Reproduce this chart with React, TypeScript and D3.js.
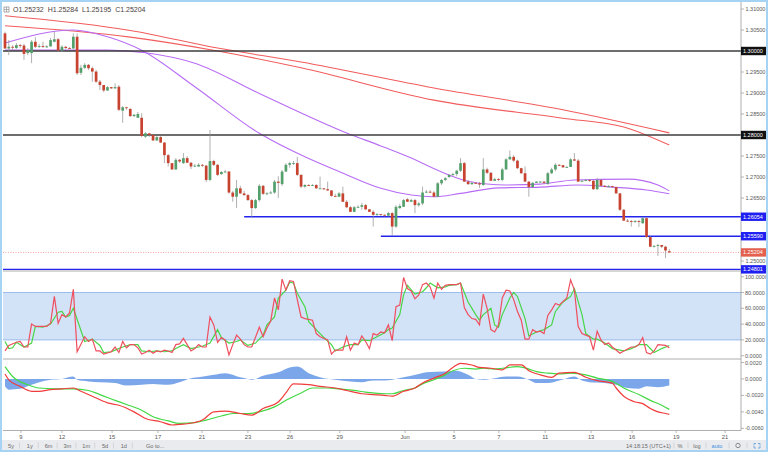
import React from 'react';
import * as d3 from 'd3';

// ---------- DATA ----------
const opens = [1.3042,1.3006,1.3010,1.3007,1.3014,1.3013,1.2995,1.2995,1.3022,1.3010,1.3012,1.3010,1.3011,1.3022,1.3028,1.3001,1.3010,1.3007,1.3006,1.3034,
1.2948,1.2960,1.2967,1.2959,1.2951,1.2927,1.2919,1.2906,1.2914,1.2911,1.2915,1.2858,1.2866,1.2862,1.2845,1.2841,1.2841,1.2796,1.2804,1.2800,
1.2787,1.2795,1.2782,1.2752,1.2733,1.2718,1.2741,1.2733,1.2745,1.2734,1.2725,1.2725,1.2729,1.2727,1.2693,1.2738,1.2729,1.2707,1.2712,1.2713,
1.2663,1.2653,1.2673,1.2661,1.2657,1.2645,1.2626,1.2645,1.2679,1.2660,1.2661,1.2663,1.2689,1.2683,1.2713,1.2729,1.2733,1.2733,1.2705,1.2677,
1.2681,1.2680,1.2681,1.2673,1.2673,1.2671,1.2668,1.2655,1.2653,1.2661,1.2641,1.2628,1.2617,1.2628,1.2629,1.2633,1.2623,1.2617,1.2610,1.2612,
1.2610,1.2608,1.2614,1.2582,1.2626,1.2629,1.2647,1.2641,1.2645,1.2633,1.2637,1.2663,1.2665,1.2663,1.2653,1.2685,1.2693,1.2700,1.2705,1.2707,
1.2715,1.2733,1.2689,1.2683,1.2686,1.2685,1.2681,1.2718,1.2710,1.2691,1.2695,1.2693,1.2718,1.2742,1.2748,1.2739,1.2721,1.2709,1.2689,1.2676,
1.2686,1.2689,1.2689,1.2684,1.2709,1.2718,1.2729,1.2728,1.2723,1.2724,1.2742,1.2739,1.2689,1.2691,1.2693,1.2691,1.2671,1.2693,1.2679,1.2677,
1.2678,1.2676,1.2661,1.2622,1.2596,1.2595,1.2594,1.2595,1.2590,1.2602,1.2557,1.2534,1.2536,1.2538,1.2534,1.25232];
const highs = [1.3046,1.3026,1.3014,1.3019,1.3017,1.3017,1.3007,1.3026,1.3033,1.3017,1.3022,1.3014,1.3031,1.3046,1.3031,1.3014,1.3012,1.3010,1.3042,1.3042,
1.2967,1.2971,1.2969,1.2963,1.2955,1.2931,1.2919,1.2917,1.2914,1.2923,1.2919,1.2869,1.2867,1.2864,1.2850,1.2855,1.2852,1.2807,1.2805,1.2802,
1.2798,1.2798,1.2783,1.2755,1.2733,1.2745,1.2743,1.2757,1.2750,1.2736,1.2731,1.2733,1.2731,1.2729,1.2812,1.2741,1.2731,1.2714,1.2717,1.2714,
1.2667,1.2693,1.2679,1.2667,1.2660,1.2648,1.2648,1.2683,1.2681,1.2664,1.2667,1.2693,1.2702,1.2717,1.2733,1.2736,1.2738,1.2748,1.2707,1.2683,
1.2683,1.2683,1.2683,1.2701,1.2674,1.2689,1.2669,1.2660,1.2664,1.2677,1.2645,1.2631,1.2631,1.2633,1.2638,1.2636,1.2624,1.2621,1.2614,1.2612,
1.2611,1.2617,1.2617,1.2633,1.2636,1.2648,1.2650,1.2648,1.2648,1.2641,1.2677,1.2669,1.2669,1.2667,1.2688,1.2695,1.2700,1.2707,1.2710,1.2717,
1.2745,1.2736,1.2693,1.2688,1.2688,1.2688,1.2745,1.2722,1.2712,1.2698,1.2698,1.2722,1.2745,1.2763,1.2752,1.2741,1.2722,1.2725,1.2690,1.2688,
1.2690,1.2690,1.2690,1.2712,1.2722,1.2733,1.2731,1.2729,1.2726,1.2745,1.2757,1.2743,1.2693,1.2695,1.2695,1.2693,1.2698,1.2695,1.2681,1.2681,
1.2679,1.2676,1.2662,1.2624,1.2600,1.2598,1.2598,1.2598,1.2605,1.2605,1.2560,1.2538,1.2541,1.2538,1.2536,1.25284];
const lows = [1.3005,1.2990,1.3002,1.3005,1.3007,1.2979,1.2990,1.2971,1.3007,1.3007,1.3007,1.3007,1.3010,1.3021,1.2998,1.2998,1.3005,1.3005,1.3005,1.2943,
1.2943,1.2957,1.2955,1.2927,1.2924,1.2907,1.2902,1.2905,1.2910,1.2910,1.2857,1.2829,1.2860,1.2843,1.2843,1.2841,1.2795,1.2793,1.2795,1.2786,
1.2786,1.2781,1.2733,1.2725,1.2717,1.2717,1.2733,1.2731,1.2733,1.2719,1.2724,1.2724,1.2724,1.2688,1.2690,1.2726,1.2702,1.2705,1.2710,1.2660,
1.2641,1.2626,1.2660,1.2655,1.2643,1.2604,1.2624,1.2641,1.2657,1.2657,1.2660,1.2660,1.2650,1.2679,1.2712,1.2722,1.2729,1.2702,1.2674,1.2674,
1.2679,1.2679,1.2672,1.2672,1.2669,1.2667,1.2653,1.2653,1.2653,1.2641,1.2626,1.2617,1.2617,1.2626,1.2622,1.2622,1.2617,1.2582,1.2607,1.2607,
1.2606,1.2606,1.2560,1.2579,1.2624,1.2629,1.2641,1.2641,1.2614,1.2629,1.2633,1.2662,1.2662,1.2653,1.2653,1.2681,1.2690,1.2698,1.2702,1.2702,
1.2712,1.2688,1.2681,1.2681,1.2683,1.2674,1.2679,1.2707,1.2690,1.2690,1.2690,1.2690,1.2717,1.2741,1.2736,1.2719,1.2707,1.2688,1.2653,1.2674,
1.2686,1.2686,1.2683,1.2681,1.2707,1.2714,1.2726,1.2722,1.2722,1.2724,1.2738,1.2688,1.2688,1.2690,1.2688,1.2669,1.2669,1.2676,1.2676,1.2676,
1.2674,1.2660,1.2619,1.2595,1.2593,1.2582,1.2591,1.2581,1.2588,1.2555,1.2533,1.2532,1.2512,1.2531,1.2507,1.25195];
const closes = [1.3006,1.3010,1.3008,1.3014,1.3012,1.2993,1.3002,1.3022,1.3010,1.3012,1.3010,1.3011,1.3026,1.3028,1.3001,1.3010,1.3007,1.3006,1.3034,1.2947,
1.2960,1.2967,1.2959,1.2951,1.2927,1.2919,1.2906,1.2914,1.2911,1.2914,1.2860,1.2866,1.2864,1.2845,1.2848,1.2850,1.2798,1.2804,1.2800,1.2787,
1.2795,1.2782,1.2752,1.2733,1.2718,1.2741,1.2737,1.2745,1.2734,1.2725,1.2727,1.2729,1.2727,1.2693,1.2738,1.2729,1.2705,1.2712,1.2713,1.2663,
1.2653,1.2673,1.2661,1.2657,1.2645,1.2626,1.2645,1.2679,1.2660,1.2661,1.2663,1.2689,1.2686,1.2713,1.2729,1.2733,1.2733,1.2705,1.2677,1.2681,
1.2680,1.2681,1.2673,1.2673,1.2671,1.2668,1.2655,1.2653,1.2661,1.2641,1.2628,1.2617,1.2628,1.2629,1.2633,1.2623,1.2617,1.2610,1.2612,1.2610,
1.2608,1.2614,1.2582,1.2629,1.2631,1.2645,1.2641,1.2645,1.2633,1.2637,1.2663,1.2665,1.2663,1.2653,1.2685,1.2693,1.2697,1.2705,1.2707,1.2715,
1.2733,1.2689,1.2683,1.2686,1.2685,1.2682,1.2718,1.2710,1.2691,1.2695,1.2694,1.2718,1.2742,1.2748,1.2739,1.2721,1.2709,1.2689,1.2676,1.2686,
1.2689,1.2689,1.2686,1.2709,1.2718,1.2729,1.2728,1.2723,1.2724,1.2742,1.2739,1.2689,1.2691,1.2693,1.2691,1.2671,1.2693,1.2679,1.2677,1.2678,
1.2676,1.2661,1.2622,1.2596,1.2595,1.2594,1.2595,1.2594,1.2602,1.2557,1.2534,1.2536,1.2538,1.2534,1.2525,1.25204];

// moving averages: [candle index, price]
const maPurpleFast = [[0,1.3019],[18,1.3050],[27,1.3034],[36,1.3002],[50,1.2915],[67,1.2804],[79,1.2748],[88,1.2713],[99,1.2673],[107,1.2657],[113,1.2653],[120,1.2661],[130,1.2674],[141,1.2676],[151,1.2681],[160,1.2676],[169,1.2669],[175,1.2660]];
const maPurpleSlow = [[0,1.3002],[27,1.3002],[37,1.2996],[50,1.2971],[67,1.2899],[90,1.2805],[99,1.2774],[107,1.2745],[115,1.2712],[122,1.2690],[132,1.2681],[141,1.2683],[150,1.2693],[164,1.2695],[172,1.2681],[175,1.2667]];
const maRedA = [[0,1.3084],[33,1.3049],[56,1.3007],[78,1.2974],[113,1.2912],[147,1.2860],[175,1.2805]];
const maRedB = [[0,1.3060],[33,1.3033],[56,1.3000],[78,1.2960],[113,1.2883],[147,1.2840],[163,1.2819],[175,1.2776]];

// horizontal levels
const levelPrices = [1.30000, 1.28000, 1.26054, 1.25590, 1.24801];
const levelStart = [0, 0, 63, 99, 0];
const lastPrice = 1.25204;

// axes
const priceTicks = [1.31, 1.305, 1.295, 1.29, 1.285, 1.275, 1.27, 1.265, 1.25];
const stochTicks = [100, 80, 60, 40, 20, 0];
const macdTicks = [0.002, 0, -0.002, -0.004, -0.006];
const dateLabels = ['9','12','15','17','21','23','26','29','Jun','5','7','11','13','16','19','21'];
const dateIdx = [4.2,15,28.2,40.3,51.9,64,75.1,88.2,105.4,118.3,130.1,142.3,154.4,165.2,176.8,189.7];

// stochastic [index, value]
const stochK = [[0,6],[1,13],[3,17],[4,18],[5,11],[6,11],[7,40],[8,37],[9,37],[11,37],[12,41],[13,75],[14,41],[15,52],[16,49],[17,54],[18,84],[19,5],[21,24],[22,18],[23,21],[24,6],[25,6],[26,2],[28,5],[29,11],[30,4],[31,18],[32,10],[33,14],[34,14],[35,10],[36,2],[37,4],[38,7],[39,3],[40,6],[41,5],[42,7],[43,6],[44,4],[45,14],[46,15],[47,22],[48,14],[49,6],[50,9],[51,14],[52,11],[53,11],[54,49],[55,39],[56,17],[57,23],[58,20],[59,1],[60,14],[61,26],[62,21],[63,14],[64,11],[65,11],[67,36],[68,24],[69,35],[70,44],[71,73],[72,58],[73,97],[74,83],[75,95],[76,94],[77,71],[78,49],[79,47],[81,45],[82,28],[83,24],[85,20],[86,2],[87,7],[89,7],[90,24],[91,7],[92,16],[93,14],[94,25],[95,18],[96,9],[97,28],[98,26],[99,30],[100,29],[101,39],[102,19],[103,62],[104,64],[105,99],[106,85],[107,82],[108,72],[109,77],[110,90],[111,92],[112,87],[113,73],[114,92],[115,84],[116,89],[117,90],[119,90],[120,92],[121,61],[122,52],[123,47],[124,46],[125,39],[126,78],[127,60],[128,33],[129,30],[130,39],[131,73],[132,83],[133,82],[134,71],[135,56],[136,45],[137,21],[138,21],[139,33],[140,30],[141,31],[142,28],[143,51],[144,58],[145,66],[146,64],[148,73],[149,96],[150,83],[151,37],[152,28],[153,26],[154,24],[155,7],[156,31],[157,20],[158,14],[159,16],[160,11],[162,3],[163,6],[165,11],[166,11],[167,14],[168,23],[169,4],[170,2],[171,6],[172,14],[174,13],[175,10]];
const stochD = [[0,18],[1,9],[2,10],[3,17],[5,11],[7,16],[8,37],[10,36],[12,40],[14,55],[15,56],[16,49],[17,51],[18,60],[21,18],[23,21],[25,13],[26,4],[28,5],[29,7],[31,11],[33,14],[35,14],[36,6],[38,5],[40,6],[42,5],[44,6],[45,9],[47,14],[49,9],[51,11],[52,12],[54,16],[56,33],[57,23],[59,16],[61,18],[62,20],[64,13],[66,16],[68,26],[69,39],[71,49],[72,73],[74,83],[75,93],[76,92],[77,79],[79,62],[80,43],[83,28],[84,23],[86,14],[87,6],[89,11],[91,14],[93,14],[94,20],[96,19],[98,24],[100,29],[101,33],[102,35],[104,52],[105,77],[106,89],[108,78],[110,81],[111,86],[112,92],[114,86],[116,87],[117,89],[119,90],[120,92],[122,68],[124,52],[125,45],[126,52],[128,60],[129,39],[130,36],[131,52],[133,73],[134,80],[135,75],[137,47],[138,25],[140,30],[142,33],[144,39],[145,56],[147,68],[149,75],[150,85],[152,52],[153,28],[155,21],[156,21],[158,16],[160,9],[163,6],[165,9],[167,14],[169,14],[171,4],[173,9],[175,13]];

// MACD [index, value]
const macdLine = [[0,0.0006],[1,-0.0001],[4,-0.0009],[7,-0.0015],[9,-0.0015],[12,-0.0013],[15,-0.0012],[18,-0.0011],[20,-0.0015],[23,-0.0021],[27,-0.0029],[30,-0.0032],[34,-0.0040],[37,-0.0048],[41,-0.0052],[44,-0.0056],[47,-0.0055],[50,-0.0053],[52,-0.0050],[55,-0.0040],[58,-0.0039],[62,-0.0042],[65,-0.0044],[68,-0.0036],[72,-0.0028],[74,-0.0017],[76,-0.0006],[80,-0.0007],[83,-0.0009],[87,-0.0011],[90,-0.0014],[94,-0.0018],[97,-0.0019],[100,-0.0020],[102,-0.0021],[105,-0.0015],[108,-0.0011],[110,-0.0005],[113,0.0001],[116,0.0007],[118,0.0014],[120,0.0019],[123,0.0017],[125,0.0014],[128,0.0013],[131,0.0011],[133,0.0017],[136,0.0017],[138,0.0010],[141,0.0005],[144,0.0002],[146,0.0007],[150,0.0008],[153,0.0002],[156,-0.0002],[160,-0.0005],[161,-0.0011],[163,-0.0021],[166,-0.0028],[168,-0.0030],[170,-0.0036],[172,-0.0040],[174,-0.0042],[175,-0.0043]];
const macdSignal = [[0,0.0015],[2,0.0003],[6,-0.0007],[9,-0.0011],[13,-0.0012],[18,-0.0012],[22,-0.0014],[25,-0.0019],[29,-0.0026],[32,-0.0031],[36,-0.0038],[39,-0.0046],[43,-0.0051],[46,-0.0054],[50,-0.0053],[53,-0.0050],[57,-0.0045],[60,-0.0042],[64,-0.0042],[67,-0.0040],[71,-0.0034],[74,-0.0026],[78,-0.0017],[81,-0.0011],[85,-0.0011],[88,-0.0012],[92,-0.0014],[95,-0.0016],[100,-0.0018],[102,-0.0018],[105,-0.0014],[108,-0.0011],[110,-0.0006],[113,-0.0001],[116,0.0005],[118,0.0010],[121,0.0013],[124,0.0012],[126,0.0013],[129,0.0012],[131,0.0013],[135,0.0015],[138,0.0012],[140,0.0009],[143,0.0007],[146,0.0006],[149,0.0007],[153,0.0005],[156,0.0001],[160,-0.0003],[163,-0.0011],[167,-0.0019],[170,-0.0026],[173,-0.0032],[175,-0.0037]];
const macdHist = [[0,-0.0009],[1,-0.0013],[4,-0.0012],[7,-0.0007],[9,-0.0004],[12,-0.0001],[15,0],[18,0.0003],[19,-0.0001],[22,-0.0003],[25,-0.0004],[29,-0.0005],[32,-0.0008],[36,-0.0007],[39,-0.0006],[43,-0.0007],[46,-0.0004],[49,0.0001],[51,0.0002],[55,0.0005],[58,0.0007],[62,0.0002],[64,0],[65,-0.0001],[68,0.0004],[72,0.0008],[75,0.0014],[77,0.0015],[80,0.0007],[83,0.0002],[87,-0.0001],[91,-0.0003],[94,-0.0004],[97,-0.0002],[100,-0.0002],[102,-0.0001],[105,0.0002],[109,0.0006],[111,0.0008],[116,0.0009],[119,0.0010],[122,0.0005],[124,0],[126,-0.0001],[129,0.0001],[132,0.0003],[135,0.0003],[138,-0.0001],[140,-0.0005],[143,-0.0005],[146,-0.0002],[148,0.0001],[150,0.0003],[152,-0.0002],[154,-0.0004],[158,-0.0005],[161,-0.0007],[164,-0.0011],[167,-0.0012],[169,-0.0009],[172,-0.0010],[175,-0.0008]];

const legendText = 'O1.25232 H1.25284 L1.25195 C1.25204';
const leftButtons = ['5y','1y','6m','3m','1m','5d','1d','Go to...'];

// ---------- STYLE ----------
const UP = '#53a06c';
const DOWN = '#c8432f';
const WICK = '#8f8f8f';
const PURPLE = '#b86cf5';
const MA_RED = '#f25c5c';
const AXIS_TXT = '#555';
const levelColors = ['#3c3c3c', '#3c3c3c', '#2323ee', '#2323ee', '#2323ee'];
const FONT = 'Arial, "Liberation Sans", sans-serif';

export default function App() {
  const plotL = 3, plotR = 741;
  const xs = d3.scaleLinear().domain([0, 175]).range([5, 669.3]);
  const yp = d3.scaleLinear().domain([1.25, 1.30]).range([261, 51]);
  const ys = d3.scaleLinear().domain([0, 100]).range([355.7, 276.7]);
  const ym = d3.scaleLinear().domain([-0.006, 0.002]).range([428.3, 362.5]);

  const maLine = d3.line<number[]>().x(d => xs(d[0])).y(d => yp(d[1])).curve(d3.curveMonotoneX);
  const stLine = d3.line<number[]>().x(d => xs(d[0])).y(d => ys(d[1]));
  const mLine = d3.line<number[]>().x(d => xs(d[0])).y(d => ym(d[1])).curve(d3.curveMonotoneX);
  const hArea = d3.area<number[]>().x(d => xs(d[0])).y0(ym(0)).y1(d => ym(d[1])).curve(d3.curveMonotoneX);

  const bw = 2.7;
  const TS = 5.5;

  const labelBox = (p: number, bg: string, y: number, key: string) => (
    <g key={key}>
      <rect x={741} y={y - 4.2} width={25} height={8.4} fill={bg} />
      <text x={743} y={y + 2} fontSize={TS} fill="#fff" fontFamily={FONT}>{p.toFixed(5)}</text>
    </g>
  );

  return (
    <svg width={768} height={452} style={{ position: 'fixed', left: 0, top: 0, background: '#fff' }} xmlns="http://www.w3.org/2000/svg">
      <defs>
        <clipPath id="pc"><rect x={plotL} y={0} width={plotR - plotL} height={270.5} /></clipPath>
        <clipPath id="sc"><rect x={plotL} y={271.5} width={plotR - plotL} height={87} /></clipPath>
        <clipPath id="mc"><rect x={plotL} y={359.5} width={plotR - plotL} height={70.5} /></clipPath>
      </defs>
      <rect x={0} y={0} width={768} height={452} fill="#fff" />

      {/* price pane */}
      <g clipPath="url(#pc)">
        <path d={maLine(maRedA) || ''} fill="none" stroke={MA_RED} strokeWidth={1.1} />
        <path d={maLine(maRedB) || ''} fill="none" stroke={MA_RED} strokeWidth={1.1} />
        <path d={maLine(maPurpleSlow) || ''} fill="none" stroke={PURPLE} strokeWidth={1.1} />
        <path d={maLine(maPurpleFast) || ''} fill="none" stroke={PURPLE} strokeWidth={1.1} />
        <line x1={plotL} x2={plotR} y1={yp(lastPrice)} y2={yp(lastPrice)} stroke="#f08c8c" strokeWidth={0.8} strokeDasharray="1,1.5" />
        {levelPrices.map((p, k) => (
          <line key={'lv' + k} x1={levelStart[k] === 0 ? plotL : xs(levelStart[k])} x2={plotR} y1={yp(p)} y2={yp(p)} stroke={levelColors[k]} strokeWidth={1.4} />
        ))}
        {closes.map((c, i) => {
          const o = opens[i];
          const up = c >= o;
          const x = xs(i);
          const y1 = yp(Math.max(o, c));
          const y2 = yp(Math.min(o, c));
          return (
            <g key={'c' + i}>
              <line x1={x} x2={x} y1={yp(highs[i])} y2={yp(lows[i])} stroke={WICK} strokeWidth={0.7} />
              <rect x={x - bw / 2} y={y1} width={bw} height={Math.max(0.9, y2 - y1)} fill={up ? UP : DOWN} />
            </g>
          );
        })}
      </g>

      {/* stochastic pane */}
      <g clipPath="url(#sc)">
        <rect x={plotL} y={ys(80)} width={plotR - plotL} height={ys(20) - ys(80)} fill="#d2e2f7" />
        <line x1={plotL} x2={plotR} y1={ys(80)} y2={ys(80)} stroke="#92b5ec" strokeWidth={0.9} />
        <line x1={plotL} x2={plotR} y1={ys(20)} y2={ys(20)} stroke="#92b5ec" strokeWidth={0.9} />
        <path d={stLine(stochD) || ''} fill="none" stroke="#47d647" strokeWidth={1.2} />
        <path d={stLine(stochK) || ''} fill="none" stroke="#ef4f5e" strokeWidth={1.2} />
      </g>

      {/* MACD pane */}
      <g clipPath="url(#mc)">
        <path d={hArea(macdHist) || ''} fill="#6496e6" opacity={0.85} />
        <path d={mLine(macdSignal) || ''} fill="none" stroke="#43d843" strokeWidth={1.2} />
        <path d={mLine(macdLine) || ''} fill="none" stroke="#f03c3c" strokeWidth={1.2} />
      </g>

      {/* pane separators */}
      <line x1={plotL} x2={plotR} y1={271} y2={271} stroke="#9a9a9a" strokeWidth={0.8} />
      <line x1={plotL} x2={plotR} y1={359} y2={359} stroke="#9a9a9a" strokeWidth={0.8} />
      <line x1={plotL} x2={plotR} y1={430.5} y2={430.5} stroke="#9a9a9a" strokeWidth={0.8} />
      <line x1={plotR} x2={plotR} y1={0} y2={430.5} stroke="#9a9a9a" strokeWidth={0.8} />

      {/* price axis */}
      {priceTicks.map((p, k) => (
        <g key={'pt' + k}>
          <line x1={741} x2={744} y1={yp(p)} y2={yp(p)} stroke="#9a9a9a" strokeWidth={0.7} />
          <text x={745.5} y={yp(p) + 2} fontSize={TS} fill={AXIS_TXT} fontFamily={FONT}>{p.toFixed(5)}</text>
        </g>
      ))}
      {stochTicks.map((v, k) => (
        <g key={'st' + k}>
          <line x1={741} x2={744} y1={ys(v)} y2={ys(v)} stroke="#9a9a9a" strokeWidth={0.7} />
          <text x={745} y={ys(v) + 2} fontSize={TS} fill={AXIS_TXT} fontFamily={FONT}>{v.toFixed(4)}</text>
        </g>
      ))}
      {macdTicks.map((v, k) => (
        <g key={'mt' + k}>
          <line x1={741} x2={744} y1={ym(v)} y2={ym(v)} stroke="#9a9a9a" strokeWidth={0.7} />
          <text x={745} y={ym(v) + 2} fontSize={TS} fill={AXIS_TXT} fontFamily={FONT}>{v.toFixed(4)}</text>
        </g>
      ))}
      {levelPrices.map((p, k) => labelBox(p, k < 2 ? '#111' : '#1f1ff2', yp(p), 'lb' + k))}
      {labelBox(lastPrice, '#e2604d', yp(lastPrice), 'last')}

      {/* date axis */}
      {dateLabels.map((l, k) => (
        <g key={'d' + k}>
          <line x1={xs(dateIdx[k])} x2={xs(dateIdx[k])} y1={430.5} y2={433} stroke="#9a9a9a" strokeWidth={0.7} />
          <text x={xs(dateIdx[k])} y={438.5} fontSize={5.8} fill={AXIS_TXT} textAnchor="middle" fontFamily={FONT}>{l}</text>
        </g>
      ))}

      {/* bottom toolbar */}
      <rect x={2} y={440} width={764} height={11} fill="#e9ebee" />
      {leftButtons.map((b, k) => (
        <g key={'b' + k}>
          <text x={k < 7 ? 11 + k * 18.8 : 146} y={447.5} fontSize={5.6} fill="#6a6a6a" textAnchor={k < 7 ? 'middle' : 'start'} fontFamily={FONT}>{b}</text>
          {k < 7 && <line x1={19.5 + k * 18.8} x2={19.5 + k * 18.8} y1={442.5} y2={448.5} stroke="#c4c4c4" strokeWidth={0.6} />}
        </g>
      ))}
      <text x={626} y={447.5} fontSize={5.6} fill="#6a6a6a" fontFamily={FONT}>14:18:15 (UTC+1)</text>
      <text x={680} y={447.5} fontSize={5.6} fill="#6a6a6a" textAnchor="middle" fontFamily={FONT}>%</text>
      <text x={697} y={447.5} fontSize={5.6} fill="#6a6a6a" textAnchor="middle" fontFamily={FONT}>log</text>
      <text x={717} y={447.5} fontSize={5.6} fill="#3d8fe0" textAnchor="middle" fontFamily={FONT}>auto</text>
      <circle cx={738} cy={445.5} r={2.2} fill="none" stroke="#8a8a8a" strokeWidth={1} />
      <path d="M754,443.5 h2 M754,443.5 v2 M760,443.5 h-2 M760,443.5 v2 M754,448 h2 M754,448 v-2 M760,448 h-2 M760,448 v-2" stroke="#5aa0e0" strokeWidth={0.8} fill="none" />
      {[674, 688, 706, 729, 747].map((x, k) => (
        <line key={'s' + k} x1={x} x2={x} y1={442.5} y2={448.5} stroke="#c4c4c4" strokeWidth={0.6} />
      ))}

      {/* legend */}
      <rect x={4} y={7} width={5} height={5} fill="none" stroke="#777" strokeWidth={0.6} />
      <line x1={6.5} x2={6.5} y1={7} y2={12} stroke="#777" strokeWidth={0.5} />
      <line x1={4} x2={9} y1={9.5} y2={9.5} stroke="#777" strokeWidth={0.5} />
      <text x={13} y={12.3} fontSize={7} fill="#4a4040" fontFamily={FONT} wordSpacing={2}>{legendText}</text>

      {/* outer frame */}
      <rect x={1} y={1} width={766} height={450} fill="none" stroke="#a6d2f3" strokeWidth={2} />
    </svg>
  );
}
